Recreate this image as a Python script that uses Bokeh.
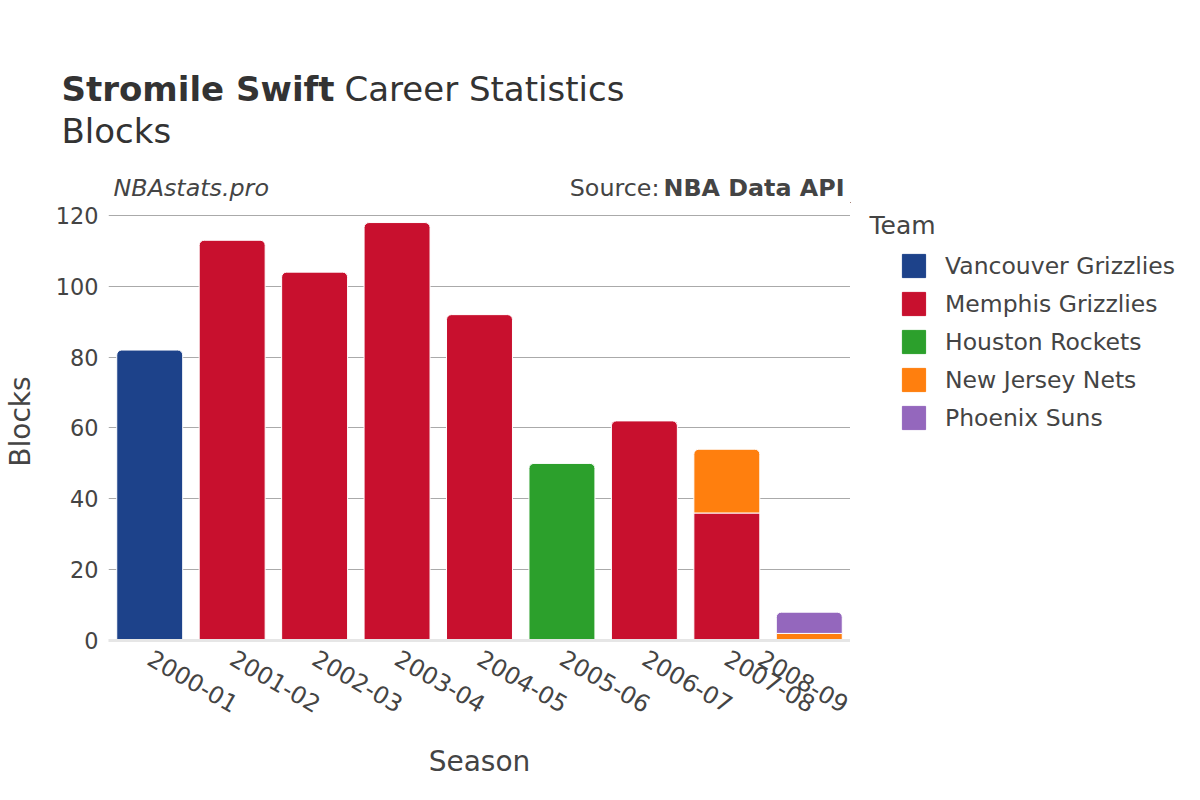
import math
from bokeh.plotting import figure
from bokeh.layouts import column, row
from bokeh.models import (ColumnDataSource, Label, Legend, LegendItem,
                          FactorRange, Range1d)
from bokeh.embed import file_html
from bokeh.resources import INLINE

seasons = ["2000-01", "2001-02", "2002-03", "2003-04", "2004-05",
           "2005-06", "2006-07", "2007-08", "2008-09"]
teams = ["Vancouver Grizzlies", "Memphis Grizzlies", "Houston Rockets",
         "New Jersey Nets", "Phoenix Suns"]
vancouver = [82, 0, 0, 0, 0, 0, 0, 0, 0]
memphis = [0, 113, 104, 118, 92, 0, 62, 36, 0]
houston = [0, 0, 0, 0, 0, 50, 0, 0, 0]
new_jersey = [0, 0, 0, 0, 0, 0, 0, 18, 2]
phoenix = [0, 0, 0, 0, 0, 0, 0, 0, 6]
colors = ["#1D428A", "#C8102E", "#2CA02C", "#FF7F0E", "#9467BD"]
y_ticks = [0, 20, 40, 60, 80, 100, 120]

series = [vancouver, memphis, houston, new_jersey, phoenix]
FONT = "DejaVu Sans"
TXT = "#444444"
HEAD = 202


def blank(fig):
    fig.grid.visible = False
    fig.outline_line_color = None
    fig.min_border = 0
    fig.min_border_left = 0
    fig.min_border_right = 0
    fig.min_border_top = 0
    fig.min_border_bottom = 0
    fig.border_fill_color = "white"
    fig.background_fill_color = "white"


def lab(fig, x, y, text, size, style="normal", align="left", color=TXT):
    fig.add_layout(Label(x=x, y=y, text=text, text_font=FONT,
                         text_font_size=size, text_font_style=style,
                         text_align=align, text_baseline="alphabetic",
                         text_color=color))


# ---- header (title, subtitle, credits)
head = figure(width=1184, height=HEAD, x_range=Range1d(0, 1184),
              y_range=Range1d(HEAD, 0), output_backend="svg",
              toolbar_location=None, x_axis_type=None, y_axis_type=None)
blank(head)
lab(head, 61, 88, "Stromile Swift", "34px", "bold", color="#333333")
lab(head, 344, 88, "Career Statistics", "34px", color="#333333")
lab(head, 61, 130, "Blocks", "34px", color="#333333")
lab(head, 113, 187, "NBAstats.pro", "23.8px", "italic")
lab(head, 659, 187, "Source:", "23.8px", align="right")
lab(head, 844, 187, "NBA Data API", "23.8px", "bold", align="right")

# ---- main chart
p = figure(x_range=FactorRange(*seasons, range_padding=0),
           y_range=(0, 123.66), width=850, height=784 - HEAD,
           output_backend="svg", toolbar_location=None, min_border_left=108,
           min_border_right=0, min_border_top=0, min_border_bottom=144,
           background_fill_color="white", border_fill_color="white")
p.outline_line_color = None
p.xgrid.grid_line_color = None
p.ygrid.grid_line_color = "#aaaaaa"
p.ygrid.grid_line_width = 1
p.yaxis.ticker = y_ticks
p.yaxis.axis_line_color = None
p.yaxis.major_tick_line_color = None
p.yaxis.minor_tick_line_color = None
p.yaxis.major_label_standoff = 4
p.yaxis.major_label_text_font = FONT
p.yaxis.major_label_text_font_size = "22.4px"
p.yaxis.major_label_text_color = TXT
p.yaxis.axis_label = "Blocks"
p.yaxis.axis_label_text_font = FONT
p.yaxis.axis_label_text_font_size = "28px"
p.yaxis.axis_label_text_font_style = "normal"
p.yaxis.axis_label_text_color = TXT
p.yaxis.axis_label_standoff = 16

p.xaxis.axis_line_color = "#e6e6e6"
p.xaxis.axis_line_width = 3
p.xaxis.major_tick_line_color = None
p.xaxis.minor_tick_line_color = None
p.xaxis.major_label_orientation = -math.pi / 6
p.xaxis.major_label_standoff = 10
p.xaxis.major_label_text_font = FONT
p.xaxis.major_label_text_font_size = "23.8px"
p.xaxis.major_label_text_color = TXT
p.xaxis.axis_label = "Season"
p.xaxis.axis_label_text_font = FONT
p.xaxis.axis_label_text_font_size = "28px"
p.xaxis.axis_label_text_font_style = "normal"
p.xaxis.axis_label_text_color = TXT
p.xaxis.axis_label_standoff = 21

n = len(seasons)
totals = [sum(s[i] for s in series) for i in range(n)]
cum = [0] * n
for team, vals, col in zip(teams, series, colors):
    groups = {"top": dict(x=[], bottom=[], top=[]),
              "mid": dict(x=[], bottom=[], top=[])}
    for i in range(n):
        if vals[i] > 0:
            b = cum[i]
            t = cum[i] + vals[i]
            key = "top" if t == totals[i] else "mid"
            groups[key]["x"].append(seasons[i])
            groups[key]["bottom"].append(b)
            groups[key]["top"].append(t)
            cum[i] = t
    for key, d in groups.items():
        if not d["x"]:
            continue
        radius = (5, 5, 0, 0) if key == "top" else 0
        p.vbar(x="x", bottom="bottom", top="top", width=0.8,
               source=ColumnDataSource(d), fill_color=col,
               line_color="white", line_width=1, border_radius=radius)

# ---- legend column (swatches use zero-size stand-in bars outside the view)
side = figure(width=1184 - 850, height=784 - HEAD,
              x_range=Range1d(850, 1184), y_range=Range1d(784, HEAD),
              output_backend="svg", toolbar_location=None,
              x_axis_type=None, y_axis_type=None)
blank(side)
lab(side, 869, 233, "Team", "25px")
items = []
for team, col in zip(teams, colors):
    r = side.vbar(x=[0], bottom=[0], top=[0], width=0, fill_color=col,
                  line_color=col)
    items.append(LegendItem(label=team, renderers=[r]))
legend = Legend(items=items, location="top_left", padding=0, margin=49,
                spacing=9, glyph_width=29, glyph_height=29, label_standoff=17,
                label_text_font=FONT, label_text_font_size="23.5px",
                label_text_color=TXT, border_line_color=None,
                background_fill_alpha=0)
side.add_layout(legend, "center")

layout = column(head, row(p, side, spacing=0), spacing=0)
open("out.html", "w").write(file_html(layout, INLINE))
